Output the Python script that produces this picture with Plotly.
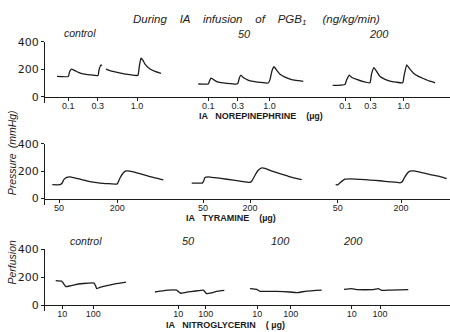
import plotly.graph_objects as go

# ---------------- data (time in chart units, pressure in mmHg) ----------------
# Panel 1: IA norepinephrine
ne_ctrl_t = [57, 68.3, 69.5, 71.3, 75, 79, 83.3, 90, 98, 99, 101, 101.8, None,
             106, 111, 116.7, 126, 136.5, 138, 139.5, 141, 143, 145, 150, 155, 161]
ne_ctrl_p = [148, 148, 180, 202, 190, 176, 167, 160, 155, 195, 233, 225, None,
             202, 188, 179, 165, 155, 157, 230, 281, 265, 238, 202, 185, 171]
ne_50_t = [198.3, 208.3, 209.5, 211, 213.5, 216.7, 221, 226.7, 236.7, 238, 239.5, 241,
           243.3, 248, 253.3, 260, 268.3, 270, 272, 274, 277, 280, 285, 290, 296, 303.3]
ne_50_p = [93, 93, 115, 136, 125, 110, 103, 98, 93, 100, 140, 157,
           140, 122, 112, 105, 100, 125, 190, 219, 190, 164, 143, 129, 119, 112]
ne_200_t = [332.7, 345, 346.5, 349.3, 352, 356.7, 363.3, 370, 371.5, 374, 377, 380,
            385, 390, 396, 402.7, 404, 406.7, 409.5, 413.3, 418, 423.3, 429, 435]
ne_200_p = [83, 90, 120, 157, 140, 126, 110, 102, 165, 212, 180, 147,
            127, 114, 107, 102, 150, 233, 205, 174, 150, 133, 115, 102]
ne_dose_t = [68.3, 97.7, 137, 208.3, 237.7, 269.5, 345.5, 370.5, 403.5]
ne_dose_lbl = ["0.1", "0.3", "1.0", "0.1", "0.3", "1.0", "0.1", "0.3", "1.0"]

# Panel 2: IA tyramine
ty_ctrl_t = [52.3, 60, 62, 64, 66.7, 70, 78, 86.7, 93, 100, 108, 116.7, 117.5, 120,
             123, 126, 130, 138, 146.7, 155, 163.3]
ty_ctrl_p = [101, 101, 112, 140, 155, 158, 145, 129, 120, 113, 109, 106, 110, 150,
             185, 202, 200, 185, 167, 150, 136]
ty_50_t = [191.7, 202.3, 203.5, 205, 208.3, 215, 226.7, 240, 250, 252, 255, 258,
           261.7, 265, 272, 280, 290, 301.7]
ty_50_p = [113, 113, 125, 153, 158, 152, 141, 127, 118, 130, 170, 205,
           224, 221, 200, 181, 158, 138]
ty_200_t = [335.7, 337.5, 340, 345, 350, 360, 370, 380, 390, 400, 402, 405, 408,
            410, 413, 420, 430, 440, 446.7]
ty_200_p = [104, 100, 115, 141, 144, 140, 135, 130, 122, 115, 120, 160, 190,
            200, 202, 193, 175, 160, 146]
ty_dose_t = [59, 117.3, 203, 250, 337.7, 401]
ty_dose_lbl = ["50", "200", "50", "200", "50", "200"]

# Panel 3: IA nitroglycerin
ng_ctrl_t = [55.7, 61.7, 63.5, 66, 70, 73.3, 83.3, 94, 95.5, 96.7, 100, 106.7, 115, 126]
ng_ctrl_p = [176, 172, 155, 132, 138, 144, 155, 158, 140, 118, 128, 139, 152, 165]
ng_50_t = [155, 160, 168.3, 176.7, 178.5, 181, 185, 190, 203.3, 205, 206.7, 210,
           213.3, 218, 224.3]
ng_50_p = [94, 100, 108, 108, 96, 85, 90, 96, 108, 95, 82, 86, 92, 100, 106]
ng_100_t = [250, 256.7, 260, 276.7, 290, 296.7, 306.7, 321.7]
ng_100_p = [118, 113, 99, 99, 94, 89, 101, 108]
ng_200_t = [344, 351.7, 356.7, 373.3, 378.3, 381.7, 390, 408.3]
ng_200_p = [113, 118, 111, 111, 118, 106, 108, 111]
ng_dose_t = [62.3, 93.3, 178.3, 205.7, 257.3, 290.7, 351.7, 380]
ng_dose_lbl = ["10", "100", "10", "100", "10", "100", "10", "100"]

y_ticks = [0, 200, 400]
y_tick_lbl = ["0", "200", "400"]

# ---------------- figure ----------------
W, H = 450, 332
INK = "#1c1c1c"
fig = go.Figure()


def add(t, p, n):
    fig.add_trace(go.Scatter(
        x=t, y=p, mode="lines", connectgaps=False,
        line=dict(color=INK, width=1.3, shape="spline", smoothing=0.4),
        xaxis="x" if n == 1 else f"x{n}", yaxis="y" if n == 1 else f"y{n}",
        showlegend=False, hoverinfo="skip"))


for t, p in [(ne_ctrl_t, ne_ctrl_p), (ne_50_t, ne_50_p), (ne_200_t, ne_200_p)]:
    add(t, p, 1)
for t, p in [(ty_ctrl_t, ty_ctrl_p), (ty_50_t, ty_50_p), (ty_200_t, ty_200_p)]:
    add(t, p, 2)
for t, p in [(ng_ctrl_t, ng_ctrl_p), (ng_50_t, ng_50_p), (ng_100_t, ng_100_p),
             (ng_200_t, ng_200_p)]:
    add(t, p, 3)


def py(px):  # pixel row -> paper fraction
    return 1 - px / H


# (bottom pixel of y-domain, top pixel (400), pixel of zero line)
panels = [(99.0, 36.7, 92.7), (203.0, 140.7, 196.7), (312.0, 248.5, 305.5)]
dose = [(ne_dose_t, ne_dose_lbl), (ty_dose_t, ty_dose_lbl), (ng_dose_t, ng_dose_lbl)]

layout = dict(
    width=W, height=H, margin=dict(l=0, r=0, t=0, b=0),
    paper_bgcolor="white", plot_bgcolor="white", showlegend=False,
)
for i, ((b, t, z), (tv, tt)) in enumerate(zip(panels, dose), start=1):
    sfx = "" if i == 1 else str(i)
    layout["xaxis" + sfx] = dict(
        domain=[45 / W, 1.0], range=[45, 450], anchor="free", position=py(z),
        showline=True, linecolor=INK, linewidth=1.3, showgrid=False, zeroline=False,
        ticks="outside", ticklen=3, tickwidth=1, tickcolor=INK,
        tickvals=tv, ticktext=tt, tickangle=0, ticklabelstandoff=-3,
        tickfont=dict(family="Liberation Sans", size=9, color=INK),
        fixedrange=True,
    )
    layout["yaxis" + sfx] = dict(
        domain=[py(b), py(t)], range=[-45, 400], anchor="x" + sfx,
        showline=True, linecolor=INK, linewidth=1.3, showgrid=False, zeroline=False,
        ticks="outside", ticklen=3, tickwidth=1, tickcolor=INK,
        tickvals=y_ticks, ticktext=y_tick_lbl,
        tickfont=dict(family="DejaVu Sans", size=11, color=INK),
        fixedrange=True,
    )
fig.update_layout(**layout)

ann = []


def text(s, x, y, size=10, italic=True, angle=0, family="Liberation Sans"):
    ann.append(dict(
        text=s, x=x / W, y=py(y), xref="paper", yref="paper", showarrow=False,
        xanchor="center", yanchor="middle", textangle=angle,
        font=dict(family=family, size=size, color=INK,
                  style="italic" if italic else "normal")))


text("During    IA    infusion    of    PGB<sub>1</sub>     (ng/kg/min)", 256, 14, size=11.5)
text("control", 80, 28, size=10.5)
text("50", 245, 29, size=11)
text("200", 379, 29, size=11)
text("<b>IA   NOREPINEPHRINE    (µg)</b>", 261, 112, size=9, italic=False)
text("<b>IA   TYRAMINE    (µg)</b>", 231, 217, size=9, italic=False)
text("control", 86, 240, size=10.5)
text("50", 188, 240, size=11)
text("100", 280, 240, size=11)
text("200", 353, 240, size=11)
text("<b>IA   NITROGLYCERIN    ( µg)</b>", 225, 326, size=9, italic=False)
text("Perfusion", 12, 262, size=10.5, angle=-90)
text("Pressure", 12, 172, size=10.5, angle=-90)
text("(mmHg)", 12, 126, size=10.5, angle=-90)
fig.update_layout(annotations=ann)

fig.write_html("out.html")
